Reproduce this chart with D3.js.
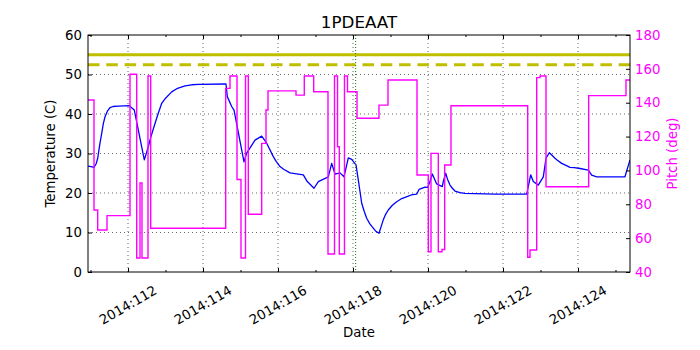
<!DOCTYPE html>
<html>
<head>
<meta charset="utf-8">
<script src="https://cdn.jsdelivr.net/npm/d3@7"></script>
<style>
  body { margin: 0; background: #fff; }
  svg { font-family: "DejaVu Sans", sans-serif; }
</style>
</head>
<body>
<svg id="chartSVG" width="700" height="350"></svg>
<script>
/**
 * Data (day of year 2014)
 */
const tempDays = [110.933, 111.013, 111.093, 111.15, 111.192, 111.25, 111.299, 111.34, 111.387, 111.45,
  111.52, 111.6, 111.741, 112.035, 112.168,
  112.435, 112.541, 112.6, 112.72, 112.8, 112.899, 113.0, 113.165, 113.3, 113.52, 113.7, 113.875,
  114.587, 114.613, 114.648, 114.765, 114.827,
  115.093, 115.165, 115.387, 115.565, 115.699, 115.875, 115.95, 116.053, 116.15, 116.32, 116.45, 116.675,
  116.781, 116.96, 117.075,
  117.299, 117.341, 117.432, 117.52, 117.653, 117.76, 117.875, 117.965, 118.08, 118.141, 118.2, 118.232,
  118.3, 118.365, 118.45, 118.541, 118.6, 118.693, 118.75, 118.808, 118.87, 118.941, 119.05, 119.165,
  119.3, 119.475, 119.55, 119.699, 119.76, 119.92, 119.992, 120.053, 120.115,
  120.232, 120.381, 120.408, 120.472, 120.52, 120.587, 120.65, 120.72, 120.85, 120.987, 121.787,
  122.632, 122.739, 122.808, 122.941,
  123.075, 123.147, 123.235, 123.3, 123.387, 123.45, 123.565, 123.65, 123.787, 123.9, 124.053, 124.275,
  124.365, 124.499, 125.253, 125.387];
const tempValues = [26.8, 26.7, 26.5, 27.4, 28.8, 32.5, 35.1, 37.5, 39.3, 40.7,
  41.6, 41.9, 42.0, 42.1, 41.0,
  28.4, 31.7, 33.9, 37.6, 40.0, 42.7, 44.0, 45.6, 46.4, 47.1, 47.4, 47.5,
  47.6, 47.6, 44.4, 41.9, 41.0,
  27.9, 30.1, 33.4, 34.4, 32.6, 29.2, 28.0, 26.7, 26.0, 25.1, 24.9, 24.6,
  22.9, 21.2, 22.9,
  23.9, 24.1, 27.5, 24.8, 25.1, 24.1, 28.9, 28.5, 27.1, 23.3, 19.5, 17.4,
  15.3, 13.6, 12.2, 11.1, 10.4, 9.8, 11.5, 13.2, 14.6, 15.7, 16.9, 17.8,
  18.6, 19.2, 19.5, 19.7, 20.9, 21.5, 21.4, 22.9, 24.8,
  22.3, 21.6, 22.9, 25.0, 23.5, 22.0, 21.2, 20.5, 20.1, 19.9, 19.7,
  19.7, 24.6, 22.9, 22.0,
  24.1, 28.8, 30.2, 29.6, 28.8, 28.3, 27.5, 27.1, 26.5, 26.4, 26.2, 25.8,
  24.5, 24.1, 24.1, 28.4];

const pitchDays = [110.933, 111.093, 111.192, 111.44, 112.053, 112.232, 112.32, 112.373, 112.533, 112.605,
  114.605, 114.72, 114.907, 115.013, 115.133, 115.208, 115.565, 115.68, 115.733, 116.48, 116.701, 116.952,
  117.333, 117.507, 117.587, 117.635, 117.773, 117.853, 118.107, 118.693, 118.933, 119.707, 120.008, 120.08,
  120.275, 120.373, 120.445, 120.613, 122.659, 122.72, 122.899, 122.987, 123.147, 124.285, 125.28, 125.387];
const pitchValues = [141.6, 76.6, 64.8, 73.3, 156.8, 48.3, 92.6, 48.3, 155.8, 65.8,
  148.5, 155.8, 94.6, 48.3, 155.8, 74.1, 116, 135.7, 147, 144.5, 155.8, 146.5,
  50.6, 155.8, 114, 50.6, 155.8, 146.5, 130.8, 138.6, 153.4, 97.3, 52, 110.1,
  52, 53.3, 103.2, 138.2, 48.7, 53, 154.8, 155.8, 90.4, 144.2, 153.4, 153.4];

const tempLimits = [55, 52.5];
const markerDay = 118.07;

const xMajorTicks = [112, 114, 116, 118, 120, 122, 124];
const xMinorTicks = [111, 113, 115, 117, 119, 121, 123, 125];
const tempTicks = [0, 10, 20, 30, 40, 50, 60];
const pitchTicks = [40, 60, 80, 100, 120, 140, 160, 180];

/**
 * Layout
 */
const margin = { top: 35, right: 70, bottom: 78, left: 88 },
  width = 700 - margin.left - margin.right,
  height = 350 - margin.top - margin.bottom;

const svg = d3.select("#chartSVG");
const g = svg.append("g").attr("transform", `translate(${margin.left},${margin.top})`);

// scales
const x = d3.scaleLinear().domain([110.933, 125.387]).range([0, width]);
const yTemp = d3.scaleLinear().domain([0, 60]).range([height, 0]);
const yPitch = d3.scaleLinear().domain([40, 180]).range([height, 0]);

// grid
const grid = g.append("g").attr("stroke", "#000").attr("stroke-width", 0.6).attr("stroke-dasharray", "1,3");
grid.selectAll(".gx").data(xMajorTicks).join("line")
  .attr("x1", d => x(d)).attr("x2", d => x(d)).attr("y1", 0).attr("y2", height);
grid.selectAll(".gy").data(tempTicks.slice(1, -1)).join("line")
  .attr("x1", 0).attr("x2", width).attr("y1", d => yTemp(d)).attr("y2", d => yTemp(d));

svg.append("clipPath").attr("id", "plotClip").append("rect")
  .attr("width", width).attr("height", height);
const plot = g.append("g").attr("clip-path", "url(#plotClip)");

// temperature
const tempLine = d3.line().x(d => x(tempDays[d])).y(d => yTemp(tempValues[d]));
plot.append("path")
  .attr("d", tempLine(d3.range(tempDays.length)))
  .attr("fill", "none").attr("stroke", "#0000ff").attr("stroke-width", 1.3)
  .attr("stroke-linejoin", "round");

// limit lines
plot.append("line")
  .attr("x1", 0).attr("x2", width)
  .attr("y1", yTemp(tempLimits[0])).attr("y2", yTemp(tempLimits[0]))
  .attr("stroke", "#bfbf00").attr("stroke-width", 3);
plot.append("line")
  .attr("x1", 0).attr("x2", width)
  .attr("y1", yTemp(tempLimits[1])).attr("y2", yTemp(tempLimits[1]))
  .attr("stroke", "#bfbf00").attr("stroke-width", 3).attr("stroke-dasharray", "11.5,6.8");

// marker
plot.append("line")
  .attr("x1", x(markerDay)).attr("x2", x(markerDay)).attr("y1", 0).attr("y2", height)
  .attr("stroke", "#008000").attr("stroke-width", 1).attr("stroke-dasharray", "1,2");

// pitch
const pitchLine = d3.line().curve(d3.curveStepAfter)
  .x(d => x(pitchDays[d])).y(d => yPitch(pitchValues[d]));
plot.append("path")
  .attr("d", pitchLine(d3.range(pitchDays.length)))
  .attr("fill", "none").attr("stroke", "#ff00ff").attr("stroke-width", 1.4);

// axes
const fontSize = 13.3;
g.append("g")
  .call(d3.axisLeft(yTemp).tickValues(tempTicks).tickSize(-4).tickPadding(6));
const rightAxis = g.append("g").attr("transform", `translate(${width},0)`)
  .call(d3.axisRight(yPitch).tickValues(pitchTicks).tickSize(-4).tickPadding(5));
rightAxis.selectAll("text").attr("fill", "#ff00ff");

g.append("g").attr("transform", `translate(0,${height})`)
  .call(d3.axisBottom(x).tickValues(xMajorTicks).tickSize(-4).tickFormat(""));
g.append("g").attr("transform", `translate(0,${height})`)
  .call(d3.axisBottom(x).tickValues(xMinorTicks).tickSize(-2).tickFormat(""));
g.append("g").call(d3.axisTop(x).tickValues(xMajorTicks).tickSize(-4).tickFormat(""));
g.append("g").call(d3.axisTop(x).tickValues(xMinorTicks).tickSize(-2).tickFormat(""));

g.selectAll(".domain").remove();
g.selectAll(".tick line").attr("stroke", "#000");
g.selectAll(".tick text").attr("font-size", fontSize).attr("font-family", "DejaVu Sans");

// rotated date labels
g.append("g").selectAll("text").data(xMajorTicks).join("text")
  .attr("transform", d => `translate(${x(d)},${height + 33}) rotate(-30)`)
  .attr("text-anchor", "middle").attr("dy", "0.35em")
  .attr("font-size", fontSize).attr("fill", "#000")
  .text(d => "2014:" + d);

// frame
g.append("rect").attr("width", width).attr("height", height)
  .attr("fill", "none").attr("stroke", "#000").attr("stroke-width", 1);

// titles
svg.append("text").attr("x", margin.left + width / 2).attr("y", 28)
  .attr("text-anchor", "middle").attr("font-size", 16.7).text("1PDEAAT");
svg.append("text").attr("x", margin.left + width / 2).attr("y", 337)
  .attr("text-anchor", "middle").attr("font-size", fontSize).text("Date");
svg.append("text").attr("transform", `translate(55,${margin.top + height / 2}) rotate(-90)`)
  .attr("text-anchor", "middle").attr("font-size", fontSize).text("Temperature (C)");
svg.append("text").attr("transform", `translate(677,${margin.top + height / 2}) rotate(-90)`)
  .attr("text-anchor", "middle").attr("font-size", fontSize).attr("fill", "#ff00ff").text("Pitch (deg)");
</script>
</body>
</html>
